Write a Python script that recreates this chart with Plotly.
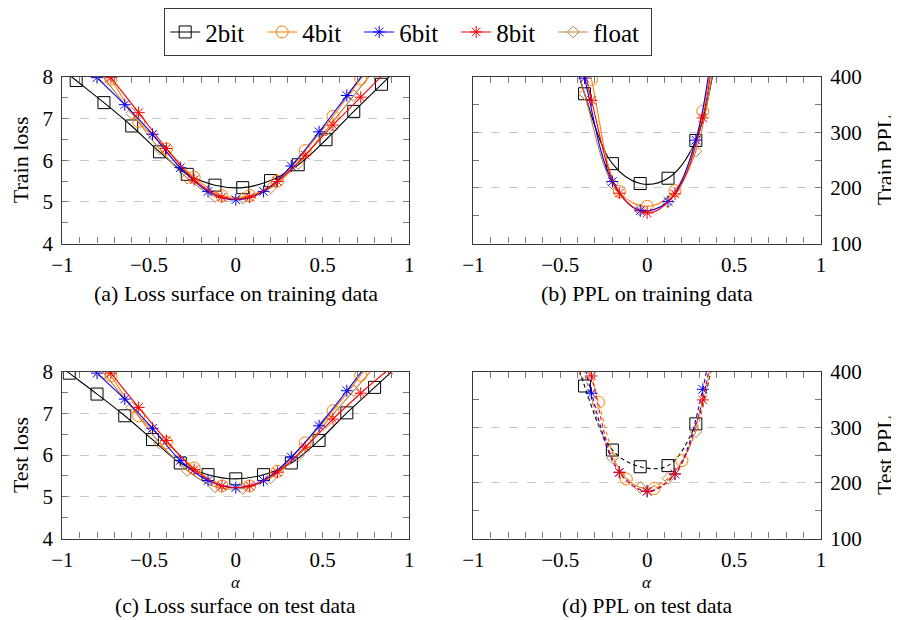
import plotly.graph_objects as go

# ---------------- data ----------------
series_names = ["2bit", "4bit", "6bit", "8bit", "float"]
colors = {"2bit": "#000000", "4bit": "#FF8000", "6bit": "#0000FF", "8bit": "#FF0000", "float": "#BF8040"}
symbols = {"2bit": "square-open", "4bit": "circle-open", "6bit": "asterisk-open", "8bit": "asterisk-open", "float": "diamond-open"}
msizes = {"2bit": 12, "4bit": 12, "6bit": 10, "8bit": 10, "float": 9}

# (a) train loss
train_loss_x = {
    "2bit": [-1.08, -0.92, -0.76, -0.60, -0.44, -0.28, -0.12, 0.04, 0.20, 0.36, 0.52, 0.68, 0.84, 1.00],
    "4bit": [-0.88, -0.72, -0.56, -0.40, -0.24, -0.08, 0.08, 0.24, 0.40, 0.56, 0.72, 0.88],
    "6bit": [-0.96, -0.80, -0.64, -0.48, -0.32, -0.16, 0.00, 0.16, 0.32, 0.48, 0.64, 0.80],
    "8bit": [-0.88, -0.72, -0.56, -0.40, -0.24, -0.08, 0.08, 0.24, 0.40, 0.56, 0.72, 0.88],
    "float": [-0.92, -0.76, -0.60, -0.44, -0.28, -0.12, 0.04, 0.20, 0.36, 0.52, 0.68, 0.84],
}
train_loss_y = {
    "2bit": [8.44, 7.91, 7.38, 6.82, 6.20, 5.66, 5.40, 5.34, 5.51, 5.89, 6.49, 7.17, 7.82, 8.47],
    "4bit": [8.90, 7.94, 6.93, 6.27, 5.59, 5.15, 5.15, 5.50, 6.23, 7.05, 7.95, 8.85],
    "6bit": [8.63, 7.98, 7.33, 6.62, 5.82, 5.25, 5.05, 5.25, 5.86, 6.68, 7.55, 8.42],
    "8bit": [8.82, 7.98, 7.14, 6.28, 5.53, 5.11, 5.11, 5.49, 6.12, 6.84, 7.51, 8.18],
    "float": [8.84, 7.98, 7.12, 6.27, 5.57, 5.13, 5.09, 5.33, 5.92, 6.72, 7.55, 8.38],
}

# (b) train PPL
train_ppl_x = {
    "2bit": [-0.52, -0.36, -0.20, -0.04, 0.12, 0.28, 0.44],
    "4bit": [-0.48, -0.32, -0.16, 0.00, 0.16, 0.32, 0.48],
    "6bit": [-0.52, -0.36, -0.20, -0.04, 0.12, 0.28, 0.44],
    "8bit": [-0.48, -0.32, -0.16, 0.00, 0.16, 0.32, 0.48],
    "float": [-0.52, -0.36, -0.20, -0.04, 0.12, 0.28, 0.44],
}
train_ppl_y = {
    "2bit": [560, 369.5, 243.7, 208, 217.5, 285.4, 530],
    "4bit": [640, 395, 193.6, 166.8, 195, 338, 760],
    "6bit": [620, 397.6, 211.6, 159, 175.8, 286, 640],
    "8bit": [600, 357.7, 190.6, 155, 189.5, 326, 770],
    "float": [560, 369.5, 208, 160, 175, 266, 560],
}

# (c) test loss
test_loss_x = {
    "2bit": [-1.12, -0.96, -0.80, -0.64, -0.48, -0.32, -0.16, 0.00, 0.16, 0.32, 0.48, 0.64, 0.80, 0.96],
    "4bit": [-0.88, -0.72, -0.56, -0.40, -0.24, -0.08, 0.08, 0.24, 0.40, 0.56, 0.72, 0.88],
    "6bit": [-0.96, -0.80, -0.64, -0.48, -0.32, -0.16, 0.00, 0.16, 0.32, 0.48, 0.64, 0.80],
    "8bit": [-0.88, -0.72, -0.56, -0.40, -0.24, -0.08, 0.08, 0.24, 0.40, 0.56, 0.72, 0.88],
    "float": [-0.92, -0.76, -0.60, -0.44, -0.28, -0.12, 0.04, 0.20, 0.36, 0.52, 0.68, 0.84],
}
test_loss_y = {
    "2bit": [8.46, 7.96, 7.46, 6.94, 6.37, 5.81, 5.53, 5.43, 5.53, 5.81, 6.35, 7.01, 7.62, 8.23],
    "4bit": [8.85, 7.90, 6.94, 6.30, 5.69, 5.26, 5.26, 5.61, 6.29, 7.06, 7.91, 8.80],
    "6bit": [8.60, 7.96, 7.34, 6.64, 5.87, 5.39, 5.22, 5.39, 5.95, 6.70, 7.54, 8.40],
    "8bit": [8.80, 7.96, 7.14, 6.35, 5.65, 5.26, 5.26, 5.59, 6.19, 6.86, 7.48, 8.05],
    "float": [8.80, 7.96, 7.14, 6.29, 5.63, 5.24, 5.20, 5.45, 5.99, 6.78, 7.54, 8.30],
}

# (d) test PPL
test_ppl_x = {
    "2bit": [-0.52, -0.36, -0.20, -0.04, 0.12, 0.28, 0.44],
    "4bit": [-0.44, -0.28, -0.12, 0.04, 0.20, 0.36, 0.52],
    "6bit": [-0.48, -0.32, -0.16, 0.00, 0.16, 0.32, 0.48],
    "8bit": [-0.48, -0.32, -0.16, 0.00, 0.16, 0.32, 0.48],
    "float": [-0.52, -0.36, -0.20, -0.04, 0.12, 0.28, 0.44],
}
test_ppl_y = {
    "2bit": [560, 374, 259, 229, 231, 306, 520],
    "4bit": [600, 345, 207, 190, 240, 410, 800],
    "6bit": [600, 361, 219, 185, 216, 368, 750],
    "8bit": [640, 392, 219, 185, 216, 349, 700],
    "float": [600, 396, 245, 192, 208, 292, 560],
}

x_ticks = [-1, -0.5, 0, 0.5, 1]
loss_ticks = [4, 5, 6, 7, 8]
ppl_ticks = [100, 200, 300, 400]

captions = ["(a) Loss surface on training data", "(b) PPL on training data",
            "(c) Loss surface on test data", "(d) PPL on test data"]
ytitles = ["Train loss", "Train PPL", "Test loss", "Test PPL"]

# ---------------- figure ----------------
# the page body has an 8px margin, so the figure is drawn 8px in from the window corner
OFF = 8
W, H = 899 - OFF, 620 - OFF
SERIF = "Liberation Serif, Times New Roman, serif"

fig = go.Figure()

panels = [
    (train_loss_x, train_loss_y, "x", "y", "solid", True),
    (train_ppl_x, train_ppl_y, "x2", "y2", "solid", False),
    (test_loss_x, test_loss_y, "x3", "y3", "solid", False),
    (test_ppl_x, test_ppl_y, "x4", "y4", "4px,3px", False),
]
draw_order = ["2bit", "float", "4bit", "6bit", "8bit"]
for xs, ys, xa, ya, dash, legend in panels:
    for name in draw_order:
        fig.add_trace(go.Scatter(
            x=xs[name], y=ys[name], xaxis=xa, yaxis=ya, name=name,
            mode="lines+markers",
            line=dict(color=colors[name], width=1.1, shape="spline", smoothing=1.0, dash=dash),
            marker=dict(symbol=symbols[name], size=msizes[name], color=colors[name],
                        line=dict(color=colors[name], width=1)),
            showlegend=legend, legendrank=series_names.index(name) + 1,
        ))

def px_x(p):
    return (p - OFF) / W

def px_y(p):
    return 1 - (p - OFF) / H

# domains in window pixels
XL = (62.3, 409.3)
XR = (473.3, 821.0)
YT = (75.0, 242.3)
YB = (370.7, 538.3)

tickfont = dict(family=SERIF, size=21, color="black")
FRAME = "#3a3a3a"
TICKC = "#7a7a7a"

def xaxis(dom, anchor):
    return dict(domain=[px_x(dom[0]), px_x(dom[1])], anchor=anchor, range=[-1, 1],
                tickvals=x_ticks, ticks="inside", ticklen=6, tickcolor=TICKC, tickwidth=1,
                minor=dict(dtick=0.1, tick0=0, ticks="inside", ticklen=6, tickcolor=TICKC, tickwidth=1),
                showline=True, linecolor=FRAME, linewidth=1.2, mirror="allticks",
                showgrid=False, zeroline=False, tickfont=tickfont, automargin=False,
                ticklabelstandoff=2)

def yaxis(dom, anchor, rng, tv, minor_dt, side):
    return dict(domain=[px_y(dom[1]), px_y(dom[0])], anchor=anchor, range=rng,
                tickvals=tv, ticks="inside", ticklen=6, tickcolor=TICKC, tickwidth=1,
                minor=dict(dtick=minor_dt, tick0=rng[0], ticks="inside", ticklen=6, tickcolor=TICKC, tickwidth=1),
                showline=True, linecolor=FRAME, linewidth=1.2, mirror="allticks",
                showgrid=True, gridcolor="#c8c8c8", griddash="dash", gridwidth=1,
                zeroline=False, tickfont=tickfont, automargin=False, side=side,
                ticklabelstandoff=4)

fig.update_layout(
    width=W, height=H,
    margin=dict(l=0, r=0, t=0, b=0),
    font=dict(family=SERIF, color="black"),
    paper_bgcolor="white", plot_bgcolor="white",
    xaxis=xaxis(XL, "y"), yaxis=yaxis(YT, "x", [4, 8], loss_ticks, 0.5, "left"),
    xaxis2=xaxis(XR, "y2"), yaxis2=yaxis(YT, "x2", [100, 400], ppl_ticks, 50, "right"),
    xaxis3=xaxis(XL, "y3"), yaxis3=yaxis(YB, "x3", [4, 8], loss_ticks, 0.5, "left"),
    xaxis4=xaxis(XR, "y4"), yaxis4=yaxis(YB, "x4", [100, 400], ppl_ticks, 50, "right"),
    legend=dict(orientation="h", x=px_x(408), xanchor="center", y=px_y(6), yanchor="top",
                bordercolor=FRAME, borderwidth=1.2, bgcolor="white",
                font=dict(family=SERIF, size=25, color="black"),
                itemwidth=30, tracegroupgap=0, entrywidth=52, entrywidthmode="pixels"),
    showlegend=True,
)

annotations = []
cap_pos = [((XL[0] + XL[1]) / 2, 292), ((XR[0] + XR[1]) / 2, 292),
           ((XL[0] + XL[1]) / 2, 606), ((XR[0] + XR[1]) / 2, 606)]
for i, (text, (cx, cy)) in enumerate(zip(captions, cap_pos)):
    annotations.append(dict(text=text, x=px_x(cx), y=px_y(cy), xref="paper", yref="paper",
                            xanchor="center", yanchor="middle", showarrow=False,
                            font=dict(family=SERIF, size=22 if i < 2 else 21.5, color="black")))
ytitle_pos = [(20, (YT[0] + YT[1]) / 2), (884, (YT[0] + YT[1]) / 2),
              (20, (YB[0] + YB[1]) / 2), (884, (YB[0] + YB[1]) / 2)]
for text, (cx, cy) in zip(ytitles, ytitle_pos):
    annotations.append(dict(text=text, x=px_x(cx), y=px_y(cy), xref="paper", yref="paper",
                            xanchor="center", yanchor="middle", showarrow=False, textangle=-90,
                            font=dict(family=SERIF, size=22, color="black")))
for cx in [(XL[0] + XL[1]) / 2, (XR[0] + XR[1]) / 2]:
    annotations.append(dict(text="<i>α</i>", x=px_x(cx), y=px_y(582.5), xref="paper", yref="paper",
                            xanchor="center", yanchor="middle", showarrow=False,
                            font=dict(family=SERIF, size=17, color="black")))
fig.update_layout(annotations=annotations)

fig.write_html("out.html")
